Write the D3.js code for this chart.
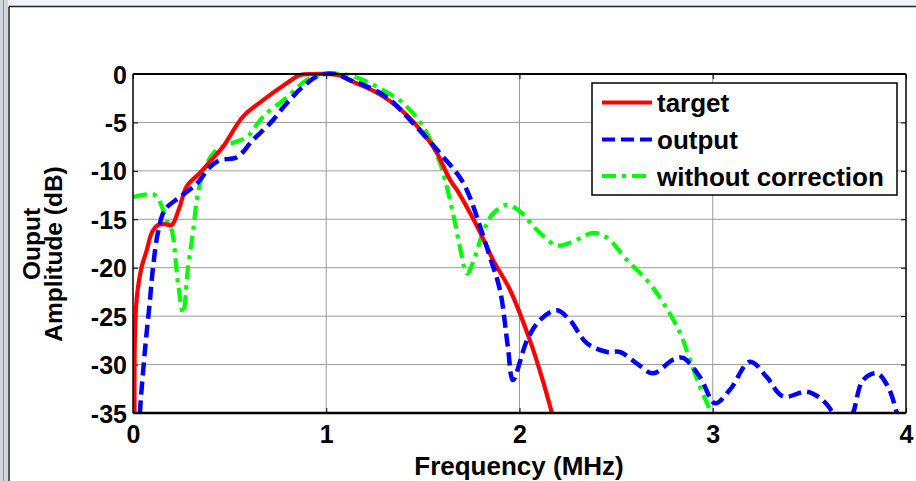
<!DOCTYPE html>
<html><head><meta charset="utf-8">
<script src="https://cdn.jsdelivr.net/npm/d3@7"></script>
<style>
html,body{margin:0;padding:0;background:#fff;}
svg{display:block;font-family:"Liberation Sans",Arial,sans-serif;font-weight:bold;}
</style></head>
<body>
<svg id="c" width="916" height="481"></svg>
<script>
// ---- data ----
const xTicks = [0, 1, 2, 3, 4];
const yTicks = [0, -5, -10, -15, -20, -25, -30, -35];
const seriesNames = ["target", "output", "without correction"];

const targetF  = [0.008, 0.010, 0.020, 0.045, 0.071, 0.097, 0.129, 0.165, 0.200, 0.240, 0.278, 0.347, 0.400, 0.466, 0.569, 0.673, 0.797, 0.864, 0.930, 1.000, 1.060, 1.150, 1.250, 1.330, 1.420, 1.500, 1.563, 1.640, 1.677, 1.740, 1.800, 1.863, 1.951, 2.054, 2.120, 2.168, 2.190];
const targetDb = [-36, -27, -23.0, -19.9, -18.2, -16.4, -15.6, -15.5, -15.6, -13.8, -11.6, -10.2, -9.0, -7.5, -4.4, -2.7, -0.93, -0.1, 0, 0, -0.1, -0.9, -1.8, -2.8, -4.3, -6.1, -7.8, -10.9, -12.0, -14.2, -16.5, -19.2, -22.3, -27.5, -31.6, -35, -36.5];

const outputF  = [0.034, 0.036, 0.062, 0.088, 0.104, 0.129, 0.166, 0.243, 0.331, 0.398, 0.450, 0.538, 0.621, 0.709, 0.797, 0.880, 0.968, 1.050, 1.120, 1.200, 1.314, 1.450, 1.589, 1.708, 1.810, 1.847, 1.899, 1.940, 1.966, 2.039, 2.106, 2.194, 2.260, 2.349, 2.453, 2.520, 2.608, 2.691, 2.794, 2.846, 2.934, 3.012, 3.089, 3.193, 3.280, 3.364, 3.488, 3.570, 3.622, 3.675, 3.726, 3.778, 3.850, 3.907, 3.953, 3.975];
const outputDb = [-37, -35, -28.5, -23.3, -19.9, -16.4, -14.0, -12.7, -11.3, -9.6, -8.9, -8.6, -6.8, -5.1, -3.0, -1.3, -0.1, 0, -0.6, -1.2, -2.4, -5.1, -8.2, -11.2, -16.6, -18.9, -22.3, -28.2, -31.6, -27.5, -25.4, -24.4, -25.4, -27.8, -28.7, -28.7, -29.9, -30.9, -29.5, -29.3, -31.3, -34.0, -32.6, -29.7, -31.3, -33.3, -32.8, -33.7, -35, -37, -35, -31.6, -30.9, -32.3, -35, -36.5];

const noCorrF  = [0.000, 0.114, 0.155, 0.181, 0.200, 0.233, 0.259, 0.285, 0.310, 0.330, 0.347, 0.383, 0.435, 0.518, 0.590, 0.673, 0.797, 0.900, 0.968, 1.000, 1.080, 1.150, 1.280, 1.397, 1.500, 1.578, 1.614, 1.656, 1.692, 1.728, 1.759, 1.810, 1.863, 1.935, 2.003, 2.090, 2.194, 2.277, 2.380, 2.453, 2.556, 2.660, 2.743, 2.830, 2.882, 2.934, 2.986];
const noCorrDb = [-12.7, -12.5, -14.0, -15.4, -16.1, -21.6, -24.7, -19.9, -16.4, -13.0, -11.3, -9.2, -7.8, -7.1, -6.5, -4.4, -2.4, -0.6, -0.1, 0, 0, -0.3, -1.5, -3.0, -5.4, -8.6, -10.9, -14.4, -17.9, -20.6, -19.5, -16.4, -14.4, -13.5, -14.2, -16.1, -17.7, -17.3, -16.4, -16.9, -19.2, -21.3, -23.6, -26.7, -29.5, -32.3, -34.7];

// ---- layout ----
const svg = d3.select("#c");
const L = 133, R = 906, T = 74, B = 413;
const x = d3.scaleLinear().domain([0, 4]).range([L, R]);
const y = d3.scaleLinear().domain([-35, 0]).range([B, T]);
const FONT = '"Liberation Sans", Arial, sans-serif';

// window frame
svg.append("rect").attr("x",0).attr("y",0).attr("width",916).attr("height",6).attr("fill","#eef2f7");
svg.append("rect").attr("x",0).attr("y",0).attr("width",8).attr("height",481).attr("fill","#d3d7dc");
svg.append("line").attr("x1",3.5).attr("x2",3.5).attr("y1",0).attr("y2",481).attr("stroke","#8a8f96").attr("stroke-width",1);
svg.append("line").attr("x1",9).attr("x2",9).attr("y1",6.5).attr("y2",481).attr("stroke","#222").attr("stroke-width",1.5);
svg.append("line").attr("x1",9).attr("x2",916).attr("y1",6.5).attr("y2",6.5).attr("stroke","#222").attr("stroke-width",1.5);

// grid
const g = svg.append("g");
g.selectAll(".gx").data(xTicks.slice(1, -1)).enter().append("line")
  .attr("x1", d => x(d)).attr("x2", d => x(d)).attr("y1", T).attr("y2", B)
  .attr("stroke", "#9a9a9a").attr("stroke-width", 1);
g.selectAll(".gy").data(yTicks.slice(1, -1)).enter().append("line")
  .attr("x1", L).attr("x2", R).attr("y1", d => y(d)).attr("y2", d => y(d))
  .attr("stroke", "#9a9a9a").attr("stroke-width", 1);

// axes with inward ticks
const fmt = d => String(d); // plain hyphen-minus like the reference
const axB = svg.append("g").attr("transform", `translate(0,${B})`)
  .call(d3.axisBottom(x).tickValues(xTicks).tickSize(-5).tickPadding(12).tickFormat(fmt));
const axL = svg.append("g").attr("transform", `translate(${L},0)`)
  .call(d3.axisLeft(y).tickValues(yTicks).tickSize(-5).tickPadding(6).tickFormat(fmt));
svg.append("g").attr("transform", `translate(0,${T})`)
  .call(d3.axisTop(x).tickValues(xTicks).tickSize(-5).tickFormat(""));
svg.append("g").attr("transform", `translate(${R},0)`)
  .call(d3.axisRight(y).tickValues(yTicks).tickSize(-5).tickFormat(""));
svg.selectAll(".domain").remove();
svg.selectAll(".tick line").attr("stroke", "#000").attr("stroke-width", 1);
[axB, axL].forEach(a => a.selectAll("text")
  .attr("fill", "#000").style("font-size", "25px").style("font-weight", "bold")
  .style("font-family", FONT));
axL.selectAll("text").attr("dy", "0.36em");

// clip
svg.append("clipPath").attr("id", "clip").append("rect")
  .attr("x", L).attr("y", T - 3).attr("width", R - L).attr("height", B - T + 3);

const line = d3.line().x(d => x(d[0])).y(d => y(d[1])).curve(d3.curveCatmullRom.alpha(0.5));
const plot = svg.append("g").attr("clip-path", "url(#clip)");

const series = [
  { f: noCorrF, v: noCorrDb, color: "#00ff00", dash: "14,6,4,6", w: 4.2 },
  { f: targetF, v: targetDb, color: "#ff0000", dash: null, w: 4.2 },
  { f: outputF, v: outputDb, color: "#0000ff", dash: "13,6", w: 4.5 }
];
series.forEach(s => {
  plot.append("path").datum(d3.zip(s.f, s.v))
    .attr("d", line).attr("fill", "none").attr("stroke", s.color)
    .attr("stroke-width", s.w).attr("stroke-dasharray", s.dash);
});

// box
svg.append("line").attr("x1", L).attr("x2", R).attr("y1", T).attr("y2", T).attr("stroke", "#000").attr("stroke-width", 2);
svg.append("line").attr("x1", L).attr("x2", R).attr("y1", B).attr("y2", B).attr("stroke", "#000").attr("stroke-width", 2.5);
svg.append("line").attr("x1", L).attr("x2", L).attr("y1", T).attr("y2", B).attr("stroke", "#000").attr("stroke-width", 1.5);
svg.append("line").attr("x1", R).attr("x2", R).attr("y1", T).attr("y2", B).attr("stroke", "#000").attr("stroke-width", 1.5);

// axis titles
svg.append("text").attr("x", 519).attr("y", 475).attr("text-anchor", "middle")
  .style("font-size", "26px").text("Frequency (MHz)");
const yl = svg.append("text").attr("transform", "rotate(-90)").attr("text-anchor", "middle")
  .style("font-size", "24.5px");
yl.append("tspan").attr("x", -244).attr("y", 40).text("Ouput");
yl.append("tspan").attr("x", -254).attr("y", 62).text("Amplitude (dB)");

// legend
const lg = svg.append("g");
lg.append("rect").attr("x", 592).attr("y", 83).attr("width", 305).attr("height", 112)
  .attr("fill", "#fff").attr("stroke", "#000").attr("stroke-width", 1.5);
const legendColors = ["#ff0000", "#0000ff", "#00ff00"];
const legendDash = [null, "13,6", "14,6,4,6"];
const legendY = [102.5, 139.5, 176];
seriesNames.forEach((n, i) => {
  lg.append("line").attr("x1", 602).attr("x2", 652).attr("y1", legendY[i]).attr("y2", legendY[i])
    .attr("stroke", legendColors[i]).attr("stroke-width", 4.2).attr("stroke-dasharray", legendDash[i]);
  lg.append("text").attr("x", 657).attr("y", legendY[i] + 9.5).style("font-size", "26px").text(n);
});
</script>
</body></html>
